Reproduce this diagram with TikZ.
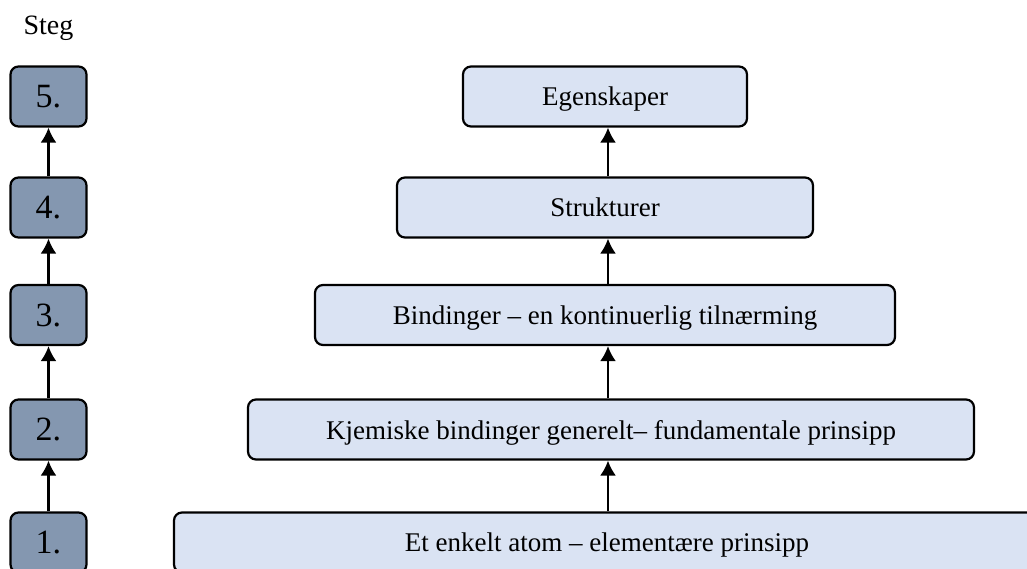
\documentclass[tikz,border=0pt]{standalone}
\usepackage{fontspec}
\setmainfont{Liberation Serif}
\usepackage{tikz}
\usetikzlibrary{shapes,positioning,arrows.meta}
\definecolor{stegfill}{HTML}{8497B0}
\definecolor{nivafill}{HTML}{DAE3F3}

\begin{document}
\begin{tikzpicture}[x=0.5pt,y=-0.5pt,line width=1.1pt,
    stegbox/.style={draw, rounded corners=4pt, fill=stegfill,
        minimum width=38pt, minimum height=30pt, text depth=0pt,
        font=\fontsize{17}{20}\selectfont},
    nivabox/.style={draw, rounded corners=4pt, fill=nivafill,
        minimum height=30pt, text depth=0pt,
        font=\fontsize{13.5}{16}\selectfont},
    pil/.style={-{Latex[length=7.5pt,width=8pt]}}]
\useasboundingbox (0,0) rectangle (1027,568);

% Overskrift
\node[anchor=base, font=\fontsize{14}{17}\selectfont] (steg) at (48.5,34) {Steg};

% Steg-bokser
\node[stegbox] (s5) at (48.5,96.5) {5.};
\node[stegbox] (s4) at (48.5,207.5) {4.};
\node[stegbox] (s3) at (48.5,315) {3.};
\node[stegbox] (s2) at (48.5,429.5) {2.};
\node[stegbox] (s1) at (48.5,542.5) {1.};

% Nivaa-bokser
\node[nivabox, minimum width=142pt] (b5) at (605,96.5) {Egenskaper};
\node[nivabox, minimum width=208pt] (b4) at (605,207.5) {Strukturer};
\node[nivabox, minimum width=290pt] (b3) at (605,315) {Bindinger -- en kontinuerlig tilnærming};
\node[nivabox, minimum width=363pt] (b2) at (611,429.5) {Kjemiske bindinger generelt-- fundamentale prinsipp};
\node[nivabox, minimum width=433pt] (b1) at (607,542.5) {Et enkelt atom -- elementære prinsipp};

% Piler
\coordinate (akse) at (608,0);
\foreach \a/\b in {s1/s2,s2/s3,s3/s4,s4/s5}
    \draw[pil] (\a) -- (\b);
\foreach \a/\b in {b1/b2,b2/b3,b3/b4,b4/b5}
    \draw[pil] (\a.north -| akse) -- (\b.south -| akse);

\end{tikzpicture}
\end{document}
